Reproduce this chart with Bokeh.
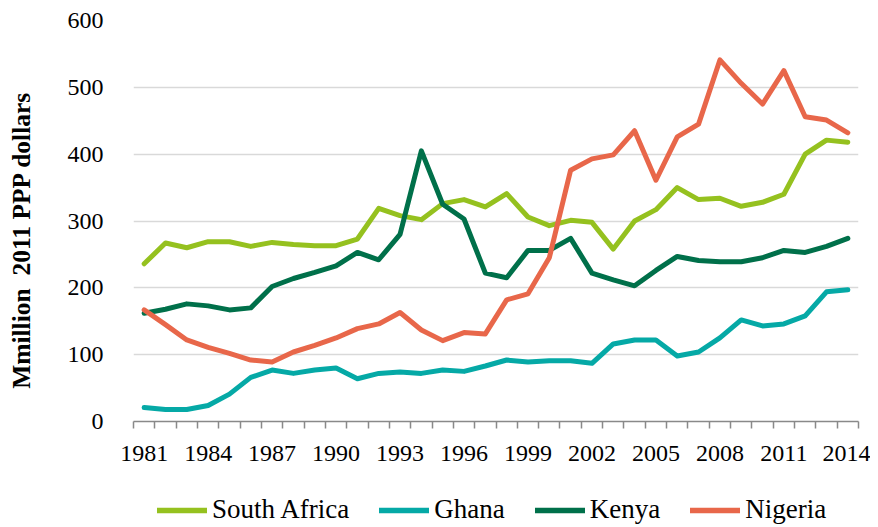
from bokeh.plotting import figure
from bokeh.layouts import column
from bokeh.models import Range1d, FixedTicker, Legend, LegendItem
from bokeh.embed import file_html
from bokeh.resources import INLINE

years = list(range(1981, 2015))
south_africa = [236, 267, 260, 269, 269, 262, 268, 265, 263, 263, 273, 319, 308, 302, 326, 332, 321,
                341, 306, 293, 301, 298, 258, 300, 317, 350, 332, 334, 322, 328, 340, 400, 421, 418]
ghana = [21, 18, 18, 24, 41, 66, 77, 72, 77, 80, 64, 72, 74, 72, 77, 75, 83,
         92, 89, 91, 91, 87, 116, 122, 122, 98, 104, 125, 152, 143, 146, 158, 194, 197]
kenya = [162, 168, 176, 173, 167, 170, 202, 214, 223, 233, 253, 242, 280, 405, 325, 303, 222,
         215, 256, 256, 274, 222, 212, 203, 226, 247, 241, 239, 239, 245, 256, 253, 262, 274]
nigeria = [167, 145, 122, 111, 102, 92, 89, 104, 114, 125, 139, 146, 163, 137, 121, 133, 131,
           182, 191, 245, 376, 393, 399, 435, 361, 426, 445, 541, 506, 475, 525, 456, 451, 432]
series_names = ["South Africa", "Ghana", "Kenya", "Nigeria"]
series_colors = ["#95C11F", "#05A9A6", "#00704A", "#E8674A"]
x_label_years = list(range(1981, 2015, 3))
y_ticks = [0, 100, 200, 300, 400, 500, 600]
y_title = "Mmillion\u00a0 2011 PPP dollars" + "\u00a0" * 6

FONT = "Liberation Serif"
W = 870

p = figure(width=W, height=478, output_backend="svg", toolbar_location=None,
           x_range=Range1d(years[0] - 0.5, years[-1] + 0.5), y_range=Range1d(0, 600),
           min_border_left=133, min_border_right=12, min_border_top=20, min_border_bottom=57)
p.outline_line_color = None
p.background_fill_color = "white"

# x axis
p.xaxis.ticker = FixedTicker(ticks=x_label_years,
                             minor_ticks=[y - 0.5 for y in years] + [years[-1] + 0.5])
p.xaxis.major_tick_out = 0
p.xaxis.major_tick_in = 0
p.xaxis.minor_tick_out = 7
p.xaxis.minor_tick_in = 0
p.xaxis.minor_tick_line_color = "#898989"
p.xaxis.minor_tick_line_width = 1.5
p.xaxis.axis_line_color = "#898989"
p.xaxis.axis_line_width = 1.5
p.xaxis.major_label_standoff = 17
p.xaxis.major_label_text_font = FONT
p.xaxis.major_label_text_font_size = "24px"
p.xaxis.major_label_text_color = "black"
p.xgrid.grid_line_color = None

# y axis
p.yaxis.ticker = FixedTicker(ticks=y_ticks)
p.yaxis.axis_line_color = None
p.yaxis.major_tick_line_color = None
p.yaxis.minor_tick_line_color = None
p.yaxis.major_label_standoff = 24
p.yaxis.major_label_text_font = FONT
p.yaxis.major_label_text_font_size = "24px"
p.yaxis.major_label_text_color = "black"
p.yaxis.axis_label = y_title
p.yaxis.axis_label_text_font = FONT
p.yaxis.axis_label_text_font_size = "25.5px"
p.yaxis.axis_label_text_font_style = "bold"
p.yaxis.axis_label_text_color = "black"
p.yaxis.axis_label_standoff = 29
p.ygrid.grid_line_color = "#D9D9D9"
p.ygrid.grid_line_width = 1.5

all_values = [south_africa, ghana, kenya, nigeria]
for name, vals, col in zip(series_names, all_values, series_colors):
    p.line(years, vals, line_color=col, line_width=5, line_cap="round", line_join="round")

# legend strip underneath (its frame is aligned with the main frame by the column layout)
pl = figure(width=W, height=49, output_backend="svg", toolbar_location=None,
            x_axis_type=None, y_axis_type=None,
            x_range=Range1d(years[0] - 0.5, years[-1] + 0.5), y_range=Range1d(-2000, -1000),
            min_border_left=0, min_border_right=0, min_border_top=0, min_border_bottom=0)
pl.outline_line_color = None
pl.xgrid.grid_line_color = None
pl.ygrid.grid_line_color = None
items = []
for name, vals, col in zip(series_names, all_values, series_colors):
    r = pl.line(years, vals, line_color=col, line_width=5.5, line_cap="round")
    r.visible = False
    items.append(LegendItem(label=name, renderers=[r]))
legend = Legend(items=items, orientation="horizontal", location=(24, 2),
                glyph_width=50, glyph_height=30, label_height=30, label_standoff=5, spacing=30,
                padding=0, margin=0, border_line_color=None, background_fill_alpha=0,
                inactive_fill_alpha=0,
                label_text_font=FONT, label_text_font_size="27px", label_text_color="black")
pl.add_layout(legend, "center")

layout = column(p, pl, spacing=0)
open("out.html", "w").write(file_html(layout, INLINE))
